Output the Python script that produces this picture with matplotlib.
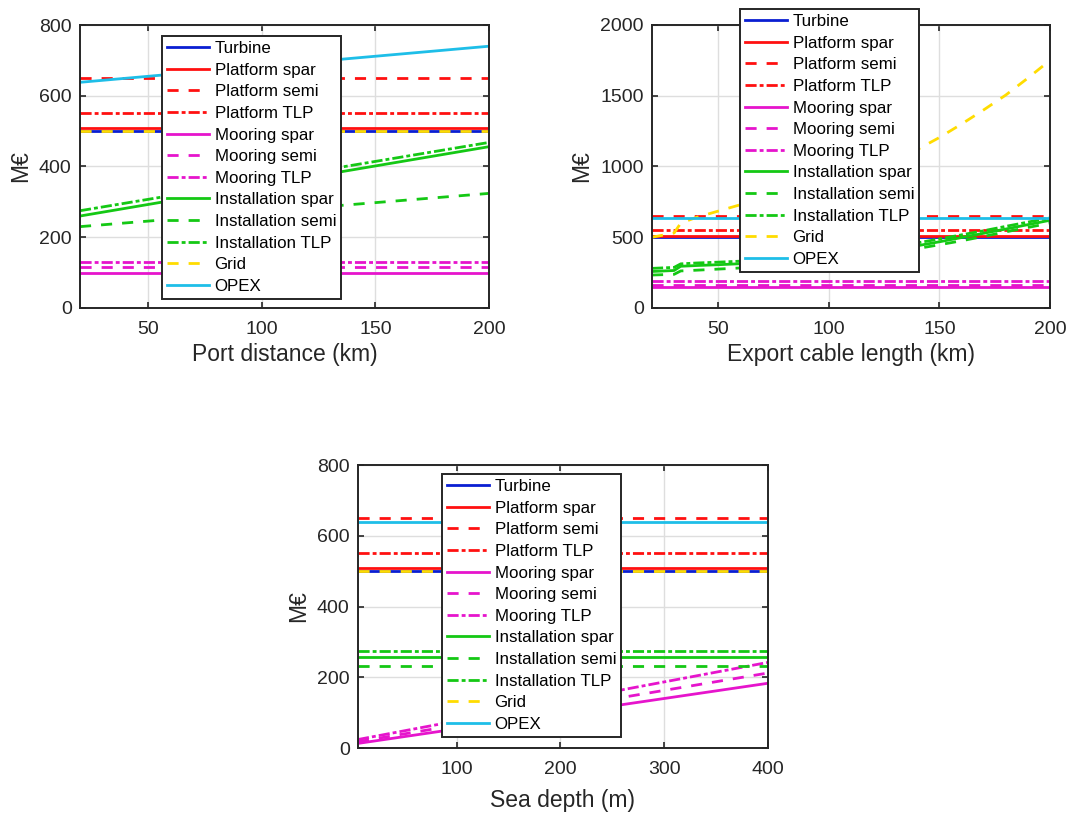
import matplotlib
matplotlib.use("Agg")
import matplotlib.pyplot as plt

plt.rcParams['font.family'] = ['Liberation Sans', 'DejaVu Sans']

labels = ["Turbine", "Platform spar", "Platform semi", "Platform TLP",
          "Mooring spar", "Mooring semi", "Mooring TLP",
          "Installation spar", "Installation semi", "Installation TLP",
          "Grid", "OPEX"]

# ---- Panel 1: Port distance ----
port_x = [20, 200]
port_turbine = [500, 500]
port_plat_spar = [510, 510]
port_plat_semi = [650, 650]
port_plat_tlp = [550, 550]
port_moor_spar = [100, 100]
port_moor_semi = [115, 115]
port_moor_tlp = [130, 130]
port_inst_spar = [260, 456]
port_inst_semi = [230, 324]
port_inst_tlp = [275, 468]
port_grid = [500, 500]
port_opex = [638, 740]

# ---- Panel 2: Export cable length ----
cable_x = [20, 30, 33, 40, 50, 60, 70, 80, 90, 100, 110, 120, 130, 140, 150, 160, 170, 180, 190, 200]
cable_turbine = [500] * 20
cable_plat_spar = [510] * 20
cable_plat_semi = [650] * 20
cable_plat_tlp = [550] * 20
cable_moor_spar = [145] * 20
cable_moor_semi = [165] * 20
cable_moor_tlp = [188] * 20
cable_inst_spar = [258, 265, 295, 300, 306, 313, 323, 335, 347, 360, 376, 395, 416, 440, 468, 498, 528, 558, 589, 620]
cable_inst_semi = [233, 238, 262, 267, 275, 283, 293, 305, 317, 330, 348, 370, 394, 420, 447, 475, 506, 538, 569, 600]
cable_inst_tlp = [280, 287, 312, 318, 324, 331, 341, 353, 365, 378, 395, 415, 436, 460, 488, 517, 546, 577, 607, 637]
cable_grid = [500, 530, 600, 640, 685, 730, 772, 816, 862, 910, 960, 1012, 1064, 1120, 1205, 1300, 1400, 1505, 1625, 1750]
cable_opex = [638] * 20

# ---- Panel 3: Sea depth ----
depth_x = [5, 400]
depth_turbine = [500, 500]
depth_plat_spar = [510, 510]
depth_plat_semi = [650, 650]
depth_plat_tlp = [550, 550]
depth_moor_spar = [13, 183]
depth_moor_semi = [18, 212]
depth_moor_tlp = [24, 242]
depth_inst_spar = [258, 258]
depth_inst_semi = [232, 232]
depth_inst_tlp = [274, 274]
depth_grid = [500, 500]
depth_opex = [638, 638]

BLUE = '#0a1ed2'
RED = '#ff1010'
MAG = '#e614cc'
GRN = '#14c814'
YEL = '#ffdc00'
CYA = '#1ebee8'
DASH = (0, (4, 3.6))
DDOT = (0, (4, 1.1, 1.4, 1.1))
styles = [(BLUE, '-'), (RED, '-'), (RED, DASH), (RED, DDOT),
          (MAG, '-'), (MAG, DASH), (MAG, DDOT),
          (GRN, '-'), (GRN, DASH), (GRN, DDOT),
          (YEL, DASH), (CYA, '-')]

W, H = 1071, 813
fig = plt.figure(figsize=(W / 100, H / 100), dpi=100)

def frac(l, t, r, b):
    return [l / W, 1 - b / H, (r - l) / W, (b - t) / H]

def panel(rect, x, series, xlim, ylim, xticks, yticks, xlabel, leg_xy, xlabelpad=4):
    ax = fig.add_axes(rect)
    for (c, ls), y, lab in zip(styles, series, labels):
        ax.plot(x, y, color=c, linestyle=ls, lw=2.0, label=lab)
    ax.set_xlim(*xlim)
    ax.set_ylim(*ylim)
    ax.set_xticks(xticks)
    ax.set_yticks(yticks)
    ax.grid(True, color='#dedede', lw=1.0)
    ax.set_axisbelow(True)
    for s in ax.spines.values():
        s.set_color('#262626')
        s.set_linewidth(1.4)
    ax.tick_params(direction='in', length=4, width=1.2, color='#262626',
                   labelsize=14, labelcolor='#262626', top=True, right=True, pad=6)
    ax.tick_params(axis='x', pad=9)
    ax.set_xlabel(xlabel, fontsize=16.5, color='#262626', labelpad=xlabelpad)
    ax.set_ylabel('M€', fontsize=16.5, color='#262626', labelpad=5)
    leg = ax.legend(loc='upper left', bbox_to_anchor=(leg_xy[0] / W, 1 - leg_xy[1] / H),
                    bbox_transform=fig.transFigure, fontsize=12.2, frameon=True,
                    fancybox=False, edgecolor='#262626', framealpha=1,
                    handlelength=2.5, handletextpad=0.3, labelspacing=0.39,
                    borderpad=0.3, borderaxespad=0)
    leg.get_frame().set_linewidth(1.4)
    leg.set_zorder(10)
    return ax

panel(frac(80, 25, 489, 308), port_x,
      [port_turbine, port_plat_spar, port_plat_semi, port_plat_tlp,
       port_moor_spar, port_moor_semi, port_moor_tlp,
       port_inst_spar, port_inst_semi, port_inst_tlp, port_grid, port_opex],
      (20, 200), (0, 800), [50, 100, 150, 200], [0, 200, 400, 600, 800],
      'Port distance (km)', (162, 36))

panel(frac(652, 25, 1050, 308), cable_x,
      [cable_turbine, cable_plat_spar, cable_plat_semi, cable_plat_tlp,
       cable_moor_spar, cable_moor_semi, cable_moor_tlp,
       cable_inst_spar, cable_inst_semi, cable_inst_tlp, cable_grid, cable_opex],
      (20, 200), (0, 2000), [50, 100, 150, 200], [0, 500, 1000, 1500, 2000],
      'Export cable length (km)', (740, 9))

panel(frac(358, 465, 768, 748), depth_x,
      [depth_turbine, depth_plat_spar, depth_plat_semi, depth_plat_tlp,
       depth_moor_spar, depth_moor_semi, depth_moor_tlp,
       depth_inst_spar, depth_inst_semi, depth_inst_tlp, depth_grid, depth_opex],
      (5, 400), (0, 800), [100, 200, 300, 400], [0, 200, 400, 600, 800],
      'Sea depth (m)', (442, 474), xlabelpad=8)

fig.savefig('out.png', dpi=100, facecolor='white')
